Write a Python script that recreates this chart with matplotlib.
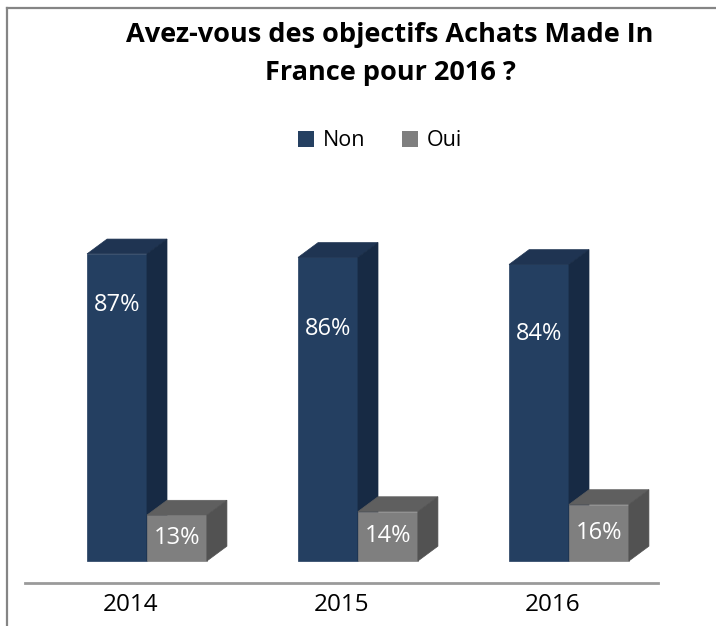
import matplotlib.pyplot as plt
from matplotlib.patches import Polygon, Rectangle
from matplotlib.lines import Line2D
import numpy as np

plt.rcParams['font.family'] = ['Open Sans', 'DejaVu Sans']

years = ['2014', '2015', '2016']
non = [87, 86, 84]
oui = [13, 14, 16]
series = ['Non', 'Oui']

# colours: front, top, side
non_cols = ('#243F61', '#1F3452', '#172A44')
oui_cols = ('#7F7F7F', '#5F5F5F', '#525252')

fig = plt.figure(figsize=(7.16, 6.26), dpi=100)
ax = fig.add_axes([25 / 716, 43 / 626, 633 / 716, 393 / 626])

width = 0.284
shift = 0.078
dx = 0.095
dy = 4.2
non_label_off = [14.5, 20.3, 19.8]


def bar3d(x0, v, cols):
    front, top, side = cols
    ax.add_patch(Rectangle((x0, 0), width, v, facecolor=front, edgecolor=front, lw=0.5))
    ax.add_patch(Polygon([(x0, v), (x0 + width, v), (x0 + width + dx, v + dy), (x0 + dx, v + dy)],
                         closed=True, facecolor=top, edgecolor=top, lw=0.5))
    ax.add_patch(Polygon([(x0 + width, 0), (x0 + width + dx, dy), (x0 + width + dx, v + dy), (x0 + width, v)],
                         closed=True, facecolor=side, edgecolor=side, lw=0.5))


for i in range(len(years)):
    xn = i + shift - width
    xo = i + shift
    bar3d(xn, non[i], non_cols)
    bar3d(xo, oui[i], oui_cols)
    ax.text(xn + width / 2, non[i] - non_label_off[i], f'{non[i]}%', color='white',
            ha='center', va='center', fontsize=17)
    ax.text(xo + width / 2, oui[i] / 2, f'{oui[i]}%', color='white',
            ha='center', va='center', fontsize=17)

ax.set_xlim(-0.5, 2.5)
ax.set_ylim(-6.23, 105.1)
for s in ['top', 'right', 'left']:
    ax.spines[s].set_visible(False)
ax.spines['bottom'].set_color('#9A9A9A')
ax.spines['bottom'].set_linewidth(2)
ax.set_yticks([])
ax.set_xticks(range(len(years)))
ax.set_xticklabels(years, fontsize=17.5)
ax.tick_params(axis='x', length=0, pad=7)

handles = [Rectangle((0, 0), 1, 1, facecolor='#254061'),
           Rectangle((0, 0), 1, 1, facecolor='#7F7F7F')]
fig.legend(handles, series, loc='center', bbox_to_anchor=(380 / 716, 1 - 141 / 626), ncol=2,
           frameon=False, fontsize=15.5, handlelength=0.75, handleheight=0.75,
           handletextpad=0.4, columnspacing=1.7)

fig.text(390 / 716, 1 - 54 / 626, 'Avez-vous des objectifs Achats Made In\nFrance pour 2016 ?',
         ha='center', va='center', fontsize=19.5, fontweight='bold', linespacing=1.6)

# frame lines (top and left only)
fig.add_artist(Line2D([7.5 / 716, 1], [1 - 7.5 / 626, 1 - 7.5 / 626], color='#858585', lw=1.6,
                      transform=fig.transFigure))
fig.add_artist(Line2D([7.5 / 716, 7.5 / 716], [0, 1 - 7.5 / 626], color='#858585', lw=1.6,
                      transform=fig.transFigure))

fig.savefig('out.png', dpi=100)
